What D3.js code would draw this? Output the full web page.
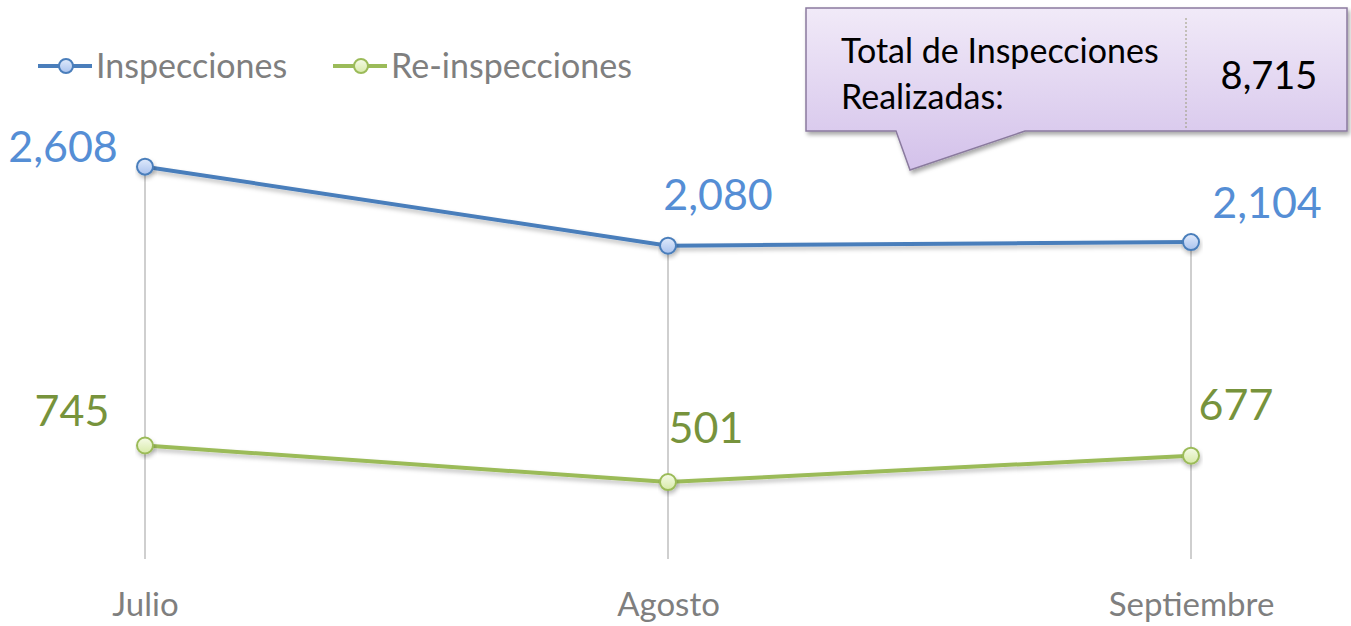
<!DOCTYPE html>
<html>
<head>
<meta charset="utf-8">
<script src="https://cdn.jsdelivr.net/npm/d3@7"></script>
<style>
  body { margin: 0; background: #fff; }
  svg { font-family: Lato, 'Open Sans', sans-serif; }
</style>
</head>
<body>
<div id="chart"></div>
<script>
var width = 1351, height = 626

// data
var months = ['Julio', 'Agosto', 'Septiembre']
var inspecciones = [2608, 2080, 2104]
var reinspecciones = [745, 501, 677]
var totalLabel = ['Total de Inspecciones', 'Realizadas:']
var totalValue = 8715

var series = [
  {name: 'Inspecciones', values: inspecciones, line: '#4a7ebb', label: '#558ed5', fillTop: '#e0eafb', fillBot: '#a9c2ee'},
  {name: 'Re-inspecciones', values: reinspecciones, line: '#9bbb59', label: '#77933c', fillTop: '#f6fbe8', fillBot: '#d7eaa8'}
]

var svg = d3.select('#chart').append('svg')
  .attr('width', width)
  .attr('height', height)

var defs = svg.append('defs')
series.forEach(function(s, i) {
  var g = defs.append('linearGradient').attr('id', 'mk' + i).attr('x1', 0).attr('y1', 0).attr('x2', 0).attr('y2', 1)
  g.append('stop').attr('offset', '0%').attr('stop-color', s.fillTop)
  g.append('stop').attr('offset', '100%').attr('stop-color', s.fillBot)
})
var cg = defs.append('linearGradient').attr('id', 'callout').attr('x1', 0).attr('y1', 0).attr('x2', 0).attr('y2', 1)
cg.append('stop').attr('offset', '0%').attr('stop-color', '#f1eaf8')
cg.append('stop').attr('offset', '100%').attr('stop-color', '#d3c1ea')
var sh = defs.append('filter').attr('id', 'shadow').attr('x', '-10%').attr('y', '-20%').attr('width', '130%').attr('height', '160%')
sh.append('feDropShadow').attr('dx', 1).attr('dy', 3).attr('stdDeviation', 2).attr('flood-color', '#000').attr('flood-opacity', 0.25)
var bs = defs.append('filter').attr('id', 'boxshadow').attr('x', '-10%').attr('y', '-20%').attr('width', '130%').attr('height', '160%')
bs.append('feDropShadow').attr('dx', 2).attr('dy', 3).attr('stdDeviation', 2).attr('flood-color', '#000').attr('flood-opacity', 0.35)

var x = d3.scalePoint().domain(months).range([145, 1191])
var y = d3.scaleLinear().domain([0, 3000]).range([557, 108])

// drop lines
svg.append('g').selectAll('line')
  .data(months)
  .enter().append('line')
    .attr('x1', function(d) { return x(d) })
    .attr('x2', function(d) { return x(d) })
    .attr('y1', function(d, i) { return y(inspecciones[i]) })
    .attr('y2', y(0) + 2)
    .attr('stroke', '#bfbfbf')
    .attr('stroke-width', 1.5)

// x axis labels
var xAxis = svg.append('g')
  .attr('transform', 'translate(0,' + (y(0)) + ')')
  .call(d3.axisBottom(x).tickSize(0).tickPadding(36))
xAxis.select('.domain').remove()
xAxis.selectAll('text')
  .attr('fill', '#7f7f7f')
  .style('font-size', '33px')
  .style('font-family', "Lato, 'Open Sans', sans-serif")

var line = d3.line()
  .x(function(d, i) { return x(months[i]) })
  .y(function(d) { return y(d) })

var labelPos = [
  [{dx: -82, y: 162, anchor: 'middle'}, {dx: 50, y: 210, anchor: 'middle'}, {dx: 76, y: 218, anchor: 'middle'}],
  [{dx: -73, y: 426, anchor: 'middle'}, {dx: 38, y: 443, anchor: 'middle'}, {dx: 45, y: 420, anchor: 'middle'}]
]

series.forEach(function(s, si) {
  var g = svg.append('g')
  g.append('path')
    .attr('d', line(s.values))
    .attr('fill', 'none')
    .attr('stroke', s.line)
    .attr('stroke-width', 4)
    .attr('filter', 'url(#shadow)')
  g.selectAll('circle')
    .data(s.values)
    .enter().append('circle')
      .attr('cx', function(d, i) { return x(months[i]) })
      .attr('cy', function(d) { return y(d) })
      .attr('r', 8)
      .attr('fill', 'url(#mk' + si + ')')
      .attr('stroke', s.line)
      .attr('stroke-width', 2)
      .attr('filter', 'url(#shadow)')
  g.selectAll('text')
    .data(s.values)
    .enter().append('text')
      .attr('x', function(d, i) { return x(months[i]) + labelPos[si][i].dx })
      .attr('y', function(d, i) { return labelPos[si][i].y })
      .attr('text-anchor', 'middle')
      .attr('fill', s.label)
      .style('font-size', '43px')
      .text(function(d) { return d3.format(',')(d) })
})

// legend
var legendX = [38, 333]
series.forEach(function(s, si) {
  var lg = svg.append('g').attr('transform', 'translate(' + legendX[si] + ',66)')
  lg.append('line').attr('x1', 0).attr('x2', 54).attr('stroke', s.line).attr('stroke-width', 4)
  lg.append('circle').attr('cx', 28).attr('r', 7).attr('fill', 'url(#mk' + si + ')').attr('stroke', s.line).attr('stroke-width', 2)
  lg.append('text')
    .attr('x', 58)
    .attr('y', 12)
    .attr('fill', '#7f7f7f')
    .style('font-size', '34px')
    .text(s.name)
})

// callout box
var co = svg.append('g')
co.append('path')
  .attr('d', 'M806,8 L1347,8 L1347,131 L1025,131 L910,170 L896,131 L806,131 Z')
  .attr('fill', 'url(#callout)')
  .attr('stroke', '#8a7a9e')
  .attr('stroke-width', 1.5)
  .attr('filter', 'url(#boxshadow)')
co.append('line')
  .attr('x1', 1186).attr('x2', 1186).attr('y1', 18).attr('y2', 128)
  .attr('stroke', '#9a9a7a').attr('stroke-width', 1).attr('stroke-dasharray', '2,2')
co.selectAll('text.lbl')
  .data(totalLabel)
  .enter().append('text')
    .attr('class', 'lbl')
    .attr('x', 841)
    .attr('y', function(d, i) { return 63 + i * 46 })
    .attr('fill', '#000')
    .style('font-size', '34px')
    .text(function(d) { return d })
co.append('text')
  .attr('x', 1269)
  .attr('y', 89)
  .attr('text-anchor', 'middle')
  .attr('fill', '#000')
  .style('font-size', '38px')
  .text(d3.format(',')(totalValue))
</script>
</body>
</html>
